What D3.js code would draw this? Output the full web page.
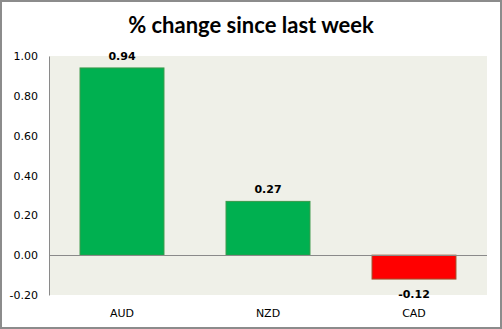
<!DOCTYPE html>
<html>
<head>
<meta charset="utf-8">
<script src="https://cdn.jsdelivr.net/npm/d3@7"></script>
<style>
  html, body { margin: 0; padding: 0; background: #fff; }
  svg { display: block; }
</style>
</head>
<body>
<svg id="chart" width="502" height="329"></svg>
<script>
// Weekly % change per currency
const categories = ["AUD", "NZD", "CAD"];
const values = [0.94, 0.27, -0.12];
const tickValues = [-0.2, 0, 0.2, 0.4, 0.6, 0.8, 1.0];
const titleText = "% change since last week";

const W = 502, H = 329;
const plot = { left: 49, right: 487, top: 56, bottom: 295 };

// two decimals with a plain hyphen for negatives
const fmt = d3.formatLocale({ decimal: ".", thousands: ",", grouping: [3], currency: ["", ""], minus: "-" }).format(".2f");

const svg = d3.select("#chart");

// outer frame
svg.append("rect")
  .attr("x", 1).attr("y", 1).attr("width", W - 2).attr("height", H - 2)
  .attr("fill", "#fff").attr("stroke", "#8c8c8c").attr("stroke-width", 2);

// title
svg.append("text")
  .attr("x", 251).attr("y", 33)
  .attr("text-anchor", "middle")
  .attr("font-family", "Lato, 'Open Sans', sans-serif")
  .attr("font-weight", "bold")
  .attr("font-size", 22)
  .attr("fill", "#000")
  .text(titleText);

const x = d3.scaleBand()
  .domain(categories)
  .range([plot.left, plot.right])
  .paddingInner(0.425)
  .paddingOuter(0.2125);

const y = d3.scaleLinear()
  .domain([-0.2, 1.0])
  .range([plot.bottom, plot.top]);

// plot area background
svg.append("rect")
  .attr("x", plot.left).attr("y", plot.top)
  .attr("width", plot.right - plot.left).attr("height", plot.bottom - plot.top)
  .attr("fill", "#eff0e8");

// y axis
const yAxis = d3.axisLeft(y)
  .tickValues(tickValues)
  .tickFormat(fmt)
  .tickSize(0)
  .tickPadding(11);

const gy = svg.append("g")
  .attr("transform", `translate(${plot.left},0)`)
  .call(yAxis);
gy.select(".domain").attr("stroke", "#8a8a8a").attr("stroke-width", 1);
gy.selectAll("text")
  .attr("font-family", "'DejaVu Sans', Verdana, sans-serif")
  .attr("font-size", 11)
  .attr("fill", "#000");

const rows = categories.map((c, i) => ({ c, v: values[i] }));

// bars
svg.append("g").selectAll("rect")
  .data(rows)
  .join("rect")
  .attr("x", d => x(d.c))
  .attr("width", x.bandwidth())
  .attr("y", d => y(Math.max(0, d.v)))
  .attr("height", d => Math.abs(y(d.v) - y(0)))
  .attr("fill", d => d.v >= 0 ? "#00b050" : "#ff0000")
  .attr("stroke", d => d.v >= 0 ? "#3a9a4a" : "#a0522d")
  .attr("stroke-width", 1);

// zero line
svg.append("line")
  .attr("x1", plot.left).attr("x2", plot.right)
  .attr("y1", Math.round(y(0)) + 0.5).attr("y2", Math.round(y(0)) + 0.5)
  .attr("stroke", "#8a8a8a").attr("stroke-width", 1);

// value labels
svg.append("g").selectAll("text")
  .data(rows)
  .join("text")
  .attr("x", d => x(d.c) + x.bandwidth() / 2)
  .attr("y", d => d.v >= 0 ? y(d.v) - 8 : y(d.v) + 19)
  .attr("text-anchor", "middle")
  .attr("font-family", "'DejaVu Sans', Verdana, sans-serif")
  .attr("font-weight", "bold")
  .attr("font-size", 11)
  .attr("fill", "#000")
  .text(d => fmt(d.v));

// category labels
svg.append("g").selectAll("text")
  .data(categories)
  .join("text")
  .attr("x", d => x(d) + x.bandwidth() / 2)
  .attr("y", 317)
  .attr("text-anchor", "middle")
  .attr("font-family", "'DejaVu Sans', Verdana, sans-serif")
  .attr("font-size", 11)
  .attr("fill", "#000")
  .text(d => d);
</script>
</body>
</html>
